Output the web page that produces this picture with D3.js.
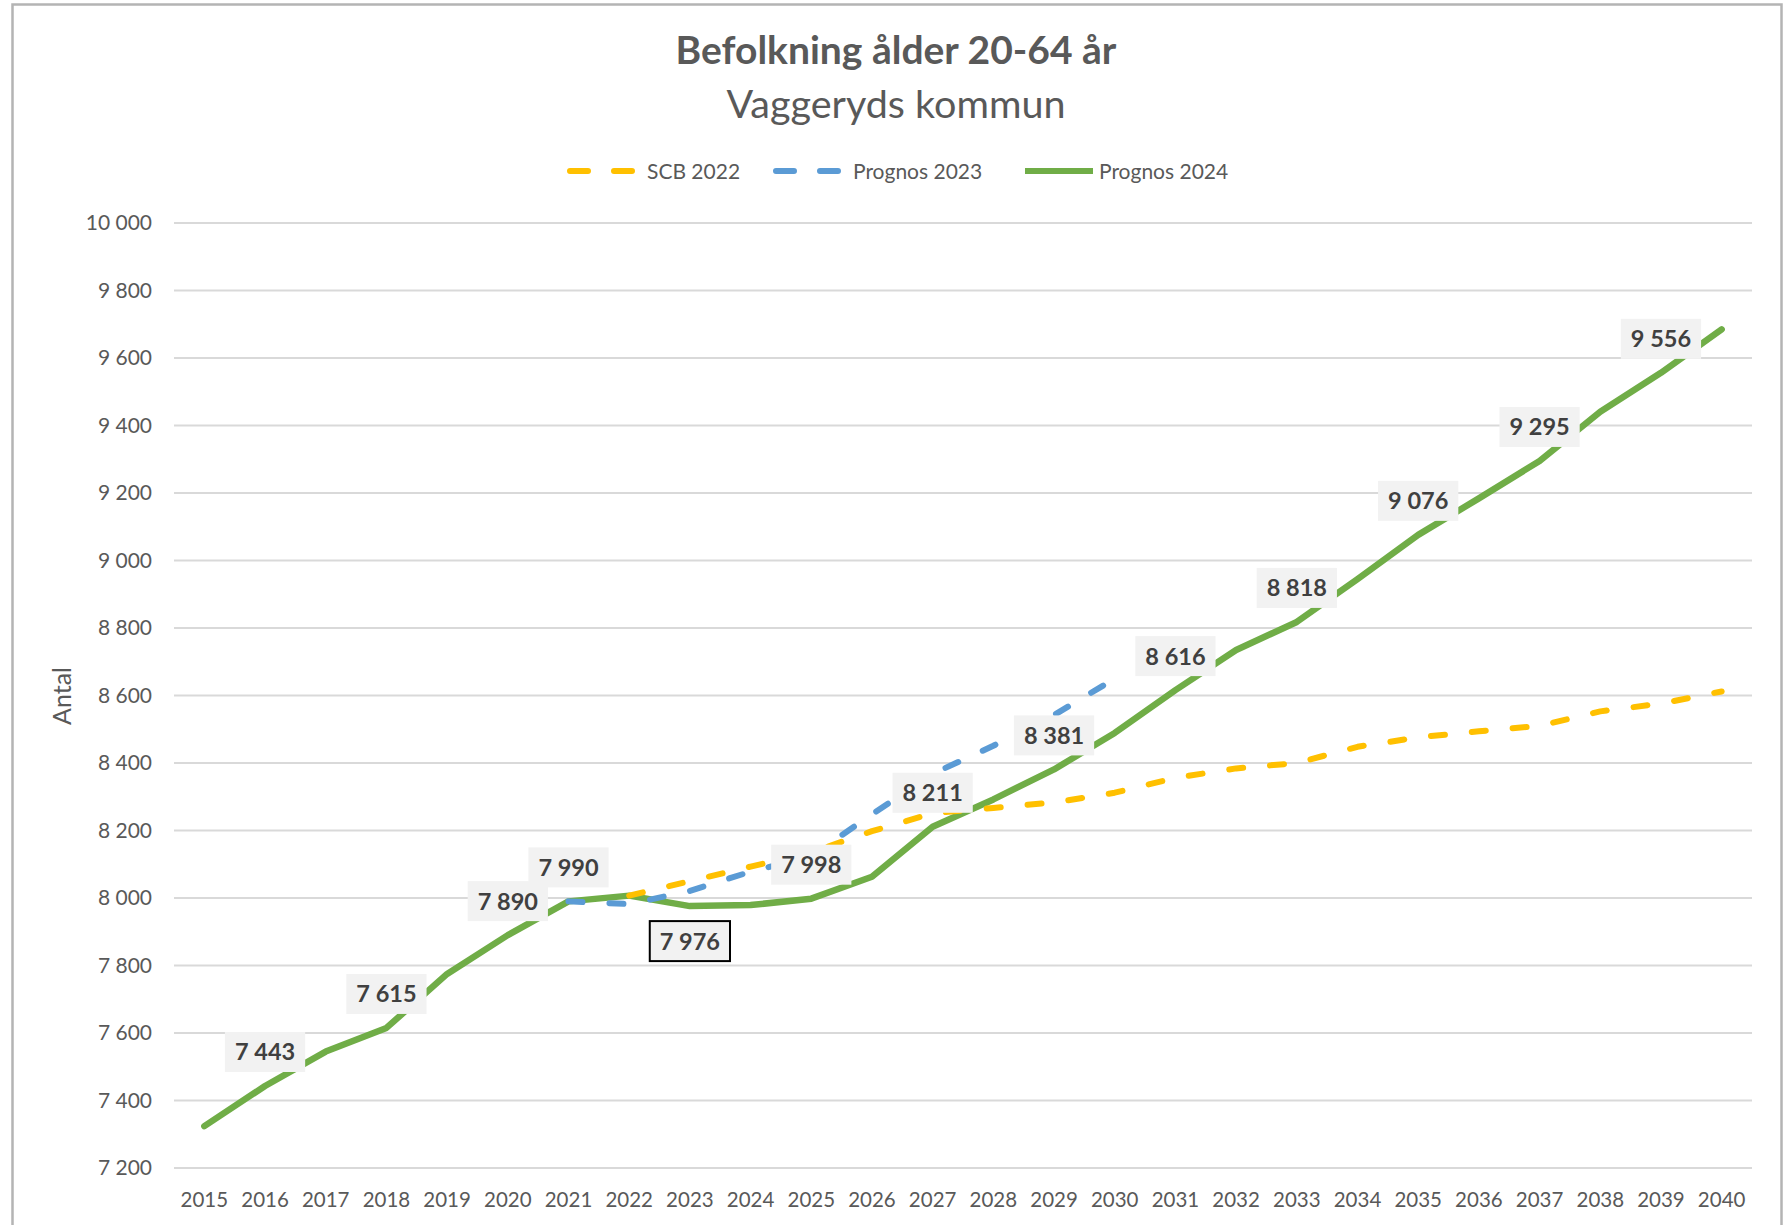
<!DOCTYPE html>
<html>
<head>
<meta charset="utf-8">
<script src="https://cdn.jsdelivr.net/npm/d3@7"></script>
<style>
  body { margin: 0; background: #fff; }
  svg { display: block; font-family: Lato, 'Open Sans', sans-serif; }
</style>
</head>
<body>
<svg id="chart"></svg>
<script>
// =========================
// DATA
// =========================

const years = [2015, 2016, 2017, 2018, 2019, 2020, 2021, 2022, 2023, 2024, 2025, 2026, 2027,
  2028, 2029, 2030, 2031, 2032, 2033, 2034, 2035, 2036, 2037, 2038, 2039, 2040];

const scb2022 = [null, null, null, null, null, null, null, 8007, 8050, 8093, 8135, 8198, 8251,
  8267, 8283, 8312, 8356, 8384, 8400, 8448, 8476, 8494, 8510, 8553, 8576, 8612];

const prognos2023 = [null, null, null, null, null, null, 7990, 7982, 8021, 8078, 8124, 8248, 8368,
  8451, 8542, 8650, null, null, null, null, null, null, null, null, null, null];

const prognos2024 = [7324, 7443, 7545, 7615, 7775, 7890, 7990, 8007, 7976, 7979, 7998, 8063, 8211,
  8292, 8381, 8489, 8616, 8735, 8818, 8945, 9076, 9184, 9295, 9441, 9556, 9685];

const labelYears = [2016, 2018, 2020, 2021, 2023, 2025, 2027, 2029, 2031, 2033, 2035, 2037, 2039];
const labelBelowYears = [2023];

const yTicks = [7200, 7400, 7600, 7800, 8000, 8200, 8400, 8600, 8800, 9000, 9200, 9400, 9600, 9800, 10000];

const seriesNames = ['SCB 2022', 'Prognos 2023', 'Prognos 2024'];
const seriesColors = ['#FFC000', '#5B9BD5', '#70AD47'];

const fmt = v => d3.format(',')(v).replace(/,/g, ' ');

// =========================
// SETUP
// =========================

const width = 1790;
const height = 1225;

const svg = d3.select('#chart')
  .attr('width', width)
  .attr('height', height);

svg.append('rect')
  .attr('x', 12.5)
  .attr('y', 4.5)
  .attr('width', 1769)
  .attr('height', 1300)
  .attr('fill', '#fff')
  .attr('stroke', '#b4b4b4')
  .attr('stroke-width', 2.5);

const x = d3.scaleBand()
  .domain(years)
  .range([174, 1752]);

const y = d3.scaleLinear()
  .domain([7200, 10000])
  .range([1168, 223]);

const px = yr => x(yr) + x.bandwidth() / 2;

// gridlines
svg.append('g')
  .selectAll('line')
  .data(yTicks)
  .enter()
  .append('line')
  .attr('x1', 174)
  .attr('x2', 1752)
  .attr('y1', d => y(d))
  .attr('y2', d => y(d))
  .attr('stroke', '#d9d9d9')
  .attr('stroke-width', 2);

// y axis
const yAxis = svg.append('g')
  .attr('transform', 'translate(152, 0)')
  .call(d3.axisLeft(y).tickValues(yTicks).tickFormat(fmt).tickSize(0).tickPadding(0));

yAxis.select('.domain').remove();
yAxis.selectAll('text')
  .style('font-size', '21px')
  .style('font-family', 'Lato')
  .attr('fill', '#595959');

// x axis
const xAxis = svg.append('g')
  .attr('transform', 'translate(0, 1168)')
  .call(d3.axisBottom(x).tickSize(0).tickPadding(0));

xAxis.select('.domain').remove();
xAxis.selectAll('text')
  .attr('dy', null)
  .attr('y', 39)
  .style('font-size', '20.5px')
  .style('font-family', 'Lato')
  .attr('fill', '#595959');

// axis title
svg.append('text')
  .attr('transform', 'translate(71, 696) rotate(-90)')
  .attr('text-anchor', 'middle')
  .attr('fill', '#595959')
  .style('font-size', '25px')
  .text('Antal');

// =========================
// LINES
// =========================

const line = d3.line()
  .defined(d => d.v !== null)
  .x(d => px(d.year))
  .y(d => y(d.v));

const allSeries = [scb2022, prognos2023, prognos2024];

[prognos2024, prognos2023, scb2022].forEach(values => {
  const i = allSeries.indexOf(values);
  const pts = years.map((year, j) => ({ year, v: values[j] }));
  svg.append('path')
    .datum(pts)
    .attr('d', line)
    .attr('fill', 'none')
    .attr('stroke', seriesColors[i])
    .attr('stroke-width', i === 2 ? 6.5 : 6)
    .attr('stroke-linecap', 'round')
    .attr('stroke-linejoin', 'round')
    .attr('stroke-dasharray', i === 2 ? null : '14 27');
});

// =========================
// DATA LABELS
// =========================

const labels = svg.append('g');

labelYears.forEach(year => {
  const v = prognos2024[years.indexOf(year)];
  const below = labelBelowYears.includes(year);
  const cx = px(year);
  const cy = y(v) + (below ? 35 : -34);

  const g = labels.append('g');
  const rect = g.append('rect');
  const t = g.append('text')
    .attr('x', cx)
    .attr('y', cy)
    .attr('dy', '0.36em')
    .attr('text-anchor', 'middle')
    .attr('fill', '#404040')
    .style('font-size', '23.5px')
    .style('font-weight', 'bold')
    .text(fmt(v));

  const w = t.node().getComputedTextLength() + 20;
  rect
    .attr('x', cx - w / 2)
    .attr('y', cy - 20)
    .attr('width', w)
    .attr('height', 40)
    .attr('fill', '#f2f2f2')
    .attr('stroke', below ? '#000' : 'none')
    .attr('stroke-width', 2);
});

// =========================
// TITLE & LEGEND
// =========================

svg.append('text')
  .attr('x', 896)
  .attr('y', 64)
  .attr('text-anchor', 'middle')
  .attr('fill', '#595959')
  .style('font-size', '39px')
  .style('font-weight', 'bold')
  .text('Befolkning ålder 20-64 år');

svg.append('text')
  .attr('x', 896)
  .attr('y', 118)
  .attr('text-anchor', 'middle')
  .attr('fill', '#595959')
  .style('font-size', '39.5px')
  .text('Vaggeryds kommun');

const legendX = [567, 773, 1022];

seriesNames.forEach((name, i) => {
  const lg = svg.append('g')
    .attr('transform', `translate(${legendX[i]}, 171)`);

  lg.append('line')
    .attr('x1', 3)
    .attr('x2', 71)
    .attr('stroke', seriesColors[i])
    .attr('stroke-width', 6)
    .attr('stroke-linecap', i === 2 ? 'butt' : 'round')
    .attr('stroke-dasharray', i === 2 ? null : '18 26');

  lg.append('text')
    .attr('x', i === 2 ? 77 : 80)
    .attr('dy', '0.36em')
    .attr('fill', '#595959')
    .style('font-size', '21px')
    .text(name);
});
</script>
</body>
</html>
